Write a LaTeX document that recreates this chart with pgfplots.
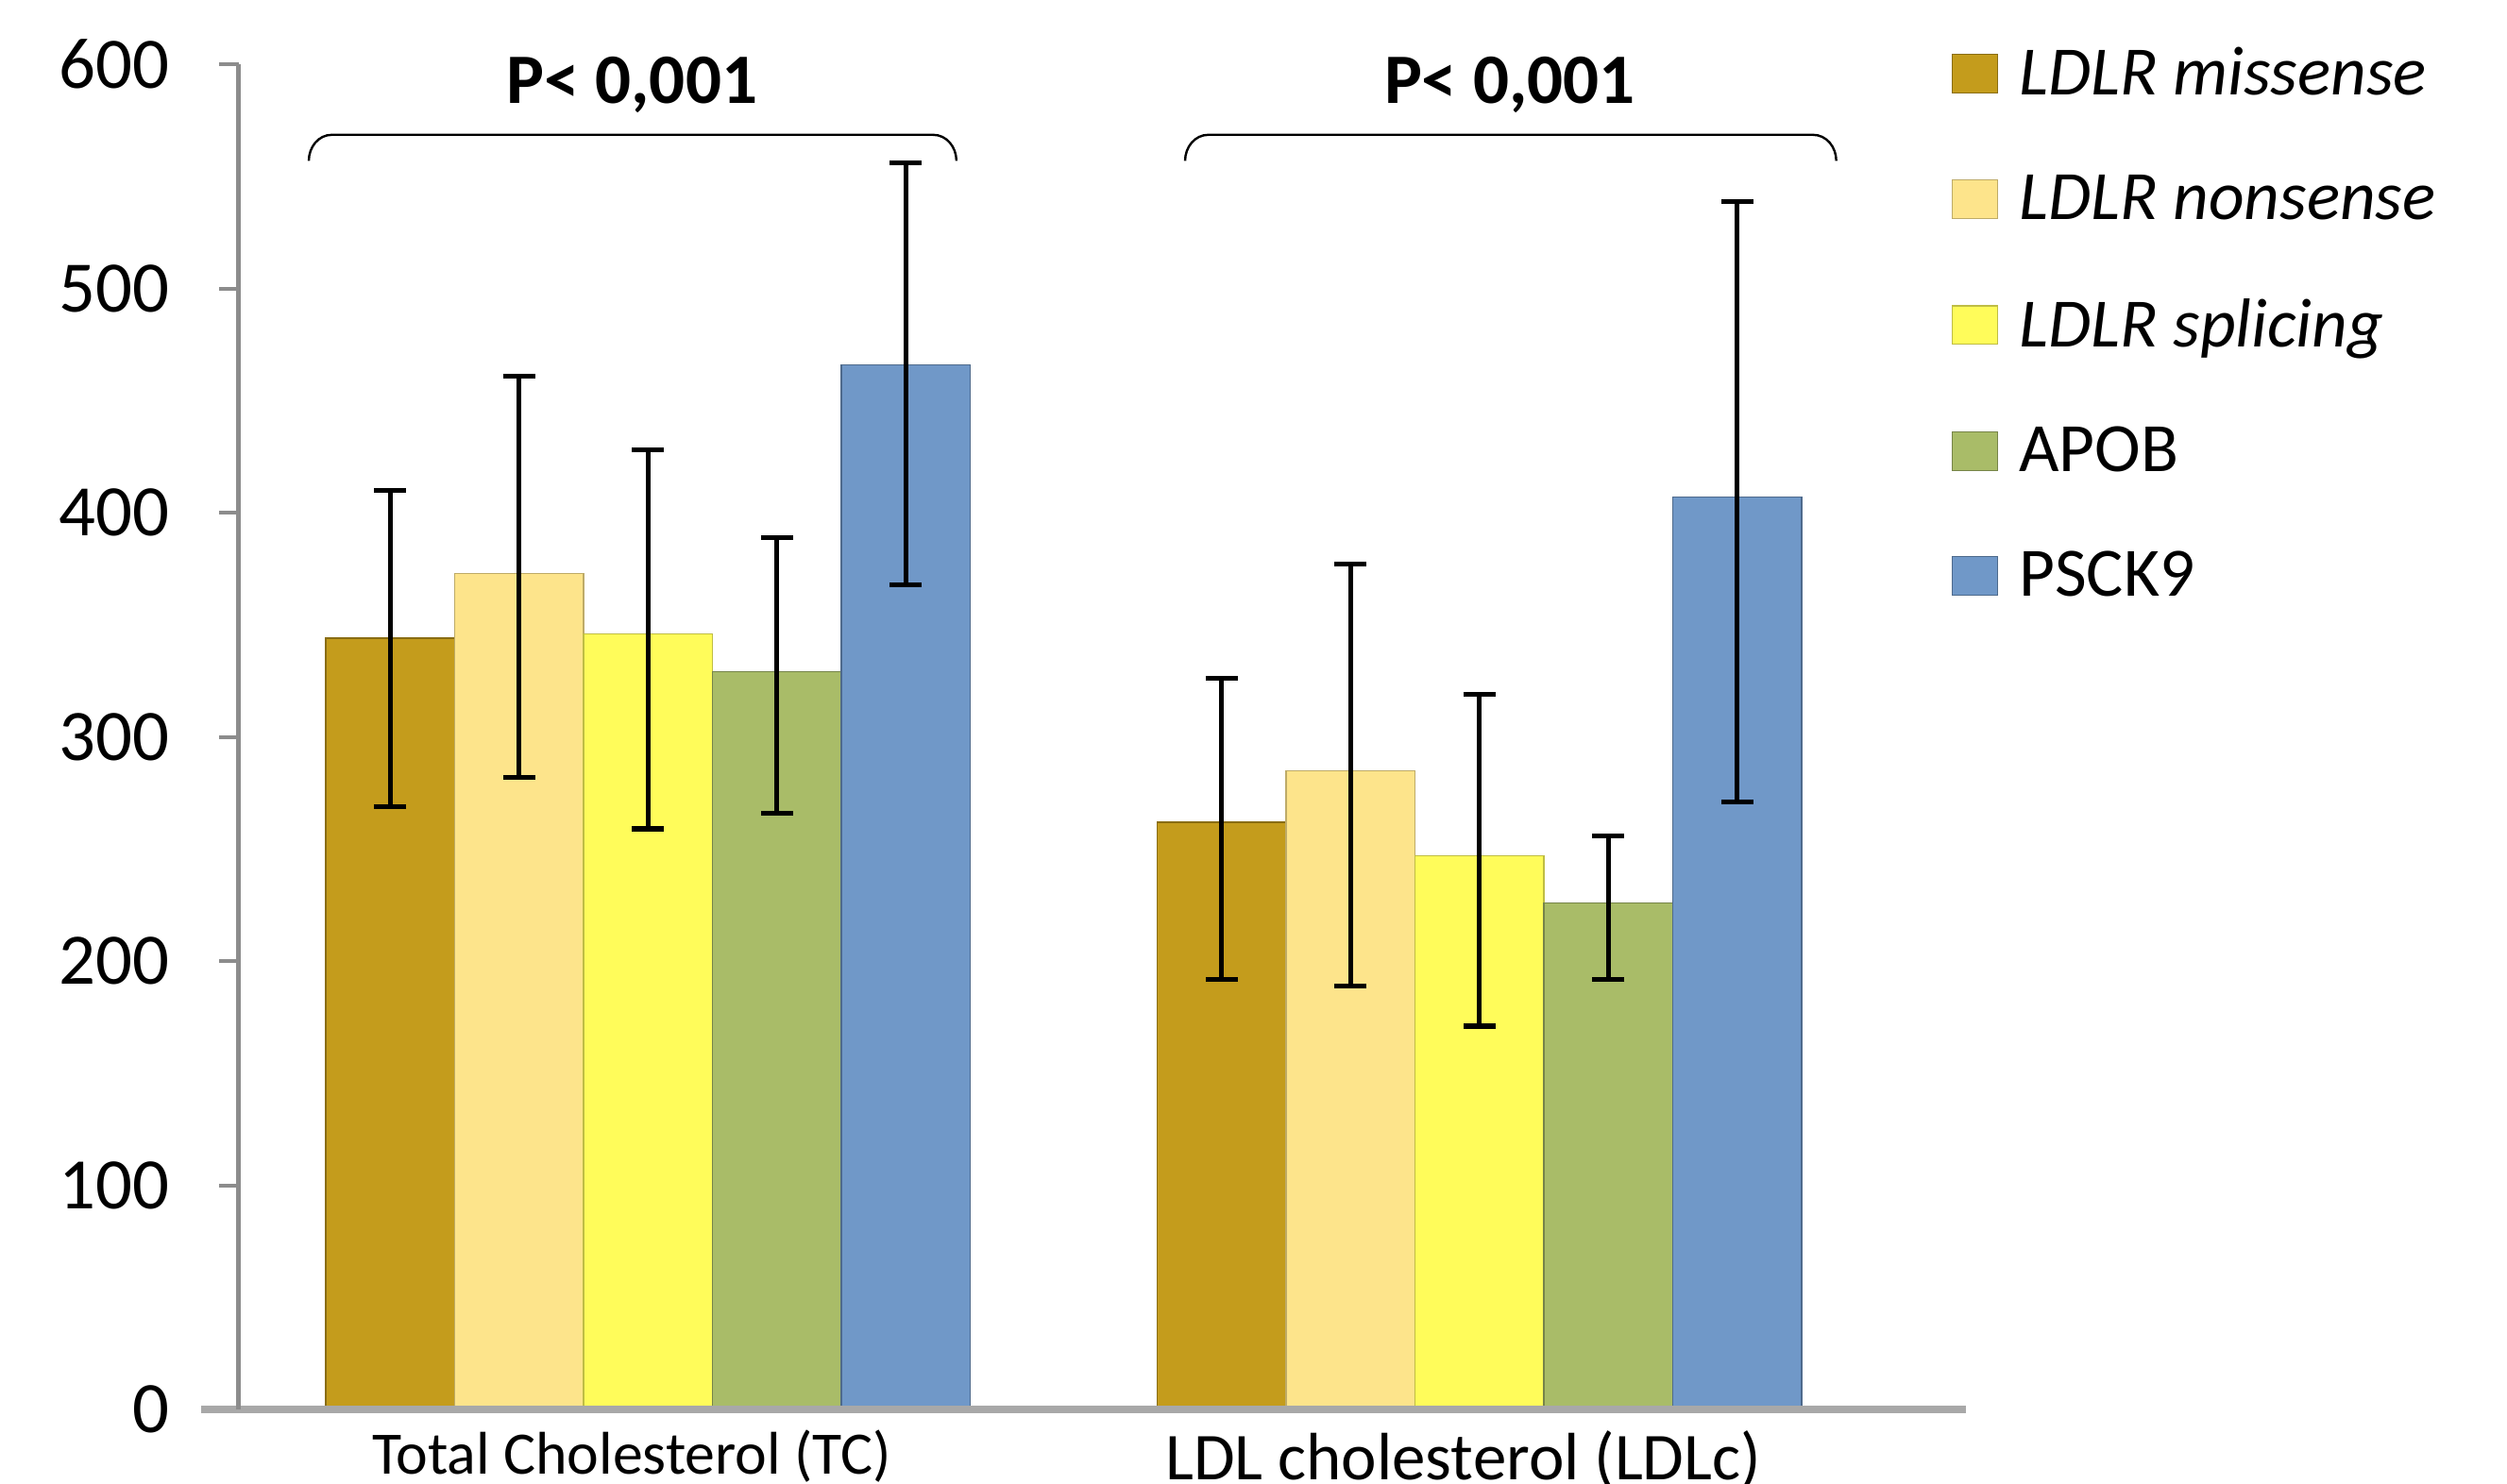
\documentclass[border=0pt]{standalone}
\usepackage{fontspec}
\setmainfont{Carlito}
\usepackage{pgfplots}
\pgfplotsset{compat=1.18}

\definecolor{cMis}{HTML}{C49C1C}
\definecolor{cNon}{HTML}{FDE48B}
\definecolor{cSpl}{HTML}{FFFC5A}
\definecolor{cApo}{HTML}{A9BC68}
\definecolor{cPcs}{HTML}{7098C8}
\definecolor{axgray}{HTML}{8C8C8C}
\definecolor{xgray}{HTML}{A8A8A8}

\begin{document}
\begin{tikzpicture}
\path[use as bounding box] (-74pt,-23pt) rectangle (704pt,437.5pt);
\begin{axis}[
    scale only axis,
    width=536pt, height=417.5pt,
    ymin=0, ymax=600,
    xmin=-0.4923, xmax=1.5846,
    ybar=0pt, bar width=40pt,
    axis on top, clip=false,
    axis x line*=bottom, axis y line*=left,
    x axis line style={line width=2.5pt, color=xgray, shorten <=-11.5pt},
    y axis line style={line width=1.2pt, color=axgray},
    xtick={0,1},
    xticklabels={{\fontsize{18.7}{22}\selectfont Total Cholesterol (TC)},
                 {\fontsize{20.8}{24}\selectfont LDL cholesterol (LDLc)}},
    x tick style={draw=none},
    ytick={0,100,...,600},
    y tick style={line width=1.2pt, color=axgray},
    tick align=outside, major tick length=6pt,
    /pgf/number format/assume math mode=true,
    yticklabel style={font=\fontsize{22.5}{26}\selectfont, xshift=-12pt},
    xticklabel style={xshift=-5pt, yshift=3pt},
    error bars/y dir=both, error bars/y explicit,
    error bars/error mark=|,
    error bars/error bar style={line width=1.5pt, black},
    error bars/error mark options={line width=1.5pt, black, mark size=5pt},
    legend image code/.code={\draw[#1, line width=0.4pt] (0pt,-6pt) rectangle (14pt,6pt);},
    legend cell align=left,
    legend style={draw=none, fill=none, inner sep=0pt,
        at={(1,1)}, anchor=north west, xshift=-4.5pt, yshift=7.5pt,
        font=\fontsize{21.5}{25}\selectfont, row sep=19.2pt,
        /tikz/every odd column/.append style={column sep=4.5pt}},
]
\addplot[fill=cMis, draw=cMis!70!black] coordinates {
    (0,344) += (0,66) -= (0,75)
    (1,262) += (0,64) -= (0,70)};
\addplot[fill=cNon, draw=cNon!75!black] coordinates {
    (0,373) += (0,88) -= (0,91)
    (1,285) += (0,92) -= (0,96)};
\addplot[fill=cSpl, draw=cSpl!75!black] coordinates {
    (0,346) += (0,82) -= (0,87)
    (1,247) += (0,72) -= (0,76)};
\addplot[fill=cApo, draw=cApo!70!black] coordinates {
    (0,329) += (0,60) -= (0,63)
    (1,226) += (0,30) -= (0,34)};
\addplot[fill=cPcs, draw=cPcs!70!black] coordinates {
    (0,466) += (0,90) -= (0,98)
    (1,407) += (0,132) -= (0,136)};
\addlegendentry{\textit{LDLR missense}}
\addlegendentry{\textit{LDLR nonsense}}
\addlegendentry{\textit{LDLR splicing}}
\addlegendentry{APOB}
\addlegendentry{PSCK9}

\node[font=\bfseries\fontsize{22}{26}\selectfont] at (axis cs:-0.0192,591) {P< 0,001};
\node[font=\bfseries\fontsize{22}{26}\selectfont] at (axis cs:1.0365,591) {P< 0,001};
\draw[line width=0.7pt] (axis cs:-0.4077,557) to[out=90,in=180] (axis cs:-0.38,568.6)
    -- (axis cs:0.343,568.6) to[out=0,in=90] (axis cs:0.371,557);
\draw[line width=0.7pt] (axis cs:0.646,557) to[out=90,in=180] (axis cs:0.674,568.6)
    -- (axis cs:1.401,568.6) to[out=0,in=90] (axis cs:1.429,557);
\end{axis}
\end{tikzpicture}
\end{document}
